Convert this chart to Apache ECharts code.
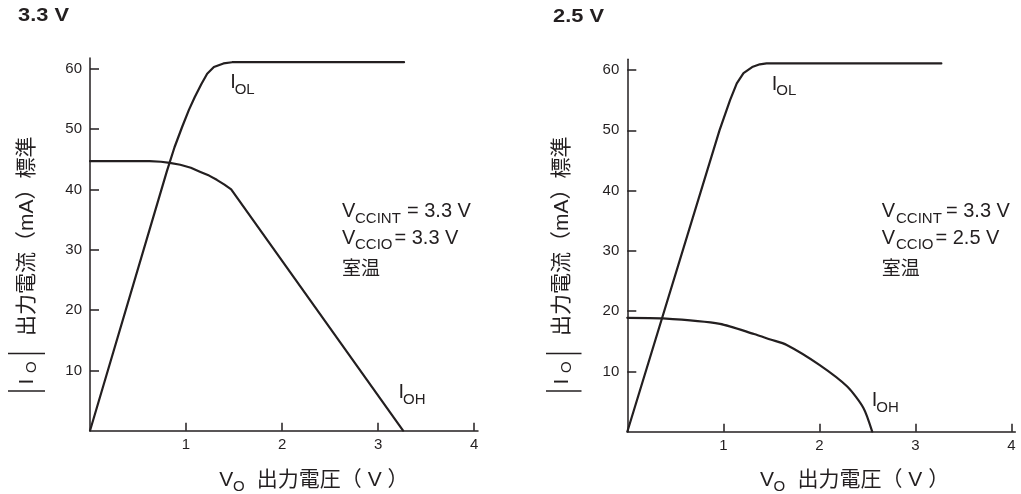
<!DOCTYPE html>
<html>
<head>
<meta charset="utf-8">
<script src="https://cdn.jsdelivr.net/npm/echarts@6/dist/echarts.min.js"></script>
<style>html,body{margin:0;padding:0;background:#fff}#c{width:1021px;height:494px}</style>
</head>
<body>
<div id="c"></div>
<script>
// ---- data ----
const xTicks = [1, 2, 3, 4];
const yTicks = [10, 20, 30, 40, 50, 60];

// 3.3 V chart
const iol33V = [0, 0.80, 0.88, 0.96, 1.03, 1.09, 1.16, 1.22, 1.29, 1.39, 1.48, 3.27];
const iol33I = [0, 43.0, 47.0, 50.4, 53.2, 55.3, 57.5, 59.2, 60.3, 60.9, 61.1, 61.1];
const ioh33V = [0, 0.62, 0.74, 0.83, 0.94, 1.05, 1.15, 1.24, 1.32, 1.40, 1.47, 3.26];
const ioh33I = [44.7, 44.7, 44.6, 44.4, 44.1, 43.6, 42.9, 42.3, 41.6, 40.8, 40.0, 0];

// 2.5 V chart
const iol25V = [0, 0.96, 1.07, 1.14, 1.21, 1.3, 1.38, 1.45, 3.27];
const iol25I = [0, 50, 55, 57.8, 59.5, 60.5, 60.95, 61.1, 61.1];
const ioh25V = [0, 0.37, 0.965, 1.32, 1.49, 1.66, 2.0, 2.29, 2.46, 2.55];
const ioh25I = [18.9, 18.8, 17.9, 16.2, 15.3, 14.4, 11.1, 7.5, 3.9, 0];

// ---- rendering ----
const C = '#231f20';
const FF = '"Liberation Sans", "Noto Sans CJK JP", sans-serif';
const pairs = (xs, ys) => xs.map((x, i) => [x, ys[i]]);

function T(text, x, y, size, extra) {
  extra = extra || {};
  return {
    type: 'text', x: x, y: y, silent: true,
    rotation: extra.rotation || 0,
    scaleX: extra.scaleX || 1,
    style: {
      text: text,
      font: (extra.weight || 'normal') + ' ' + size + 'px ' + FF,
      fill: C,
      textAlign: 'left', textVerticalAlign: 'middle',
      align: 'left', verticalAlign: 'middle'
    }
  };
}
function L(x1, y1, x2, y2) {
  return { type: 'line', silent: true, shape: { x1, y1, x2, y2 }, style: { stroke: C, lineWidth: 1.5 } };
}
function yTitle(cx, bx1, bx2) {
  const r = Math.PI / 2;
  return [
    L(bx1, 391, bx2, 391),
    L(bx1, 353.5, bx2, 353.5),
    T('I', cx, 384.5, 21, { rotation: r }),
    T('O', cx + 4, 373, 15, { rotation: r }),
    T('出力電流（mA）標準', cx, 336, 21, { rotation: r })
  ];
}
function xTitle(x0) {
  return [
    T('V', x0, 480, 21),
    T('O', x0 + 13.6, 486.5, 15),
    T('出力電圧（ V ）', x0 + 37.5, 480, 21)
  ];
}
function annot(vx, subX1, eqX1, sub1, subX2, eqX2, v2) {
  return [
    T('V', vx, 211.5, 20), T(sub1, subX1, 219, 15), T('= 3.3 V', eqX1, 211.5, 20),
    T('V', vx, 238, 20), T('CCIO', subX2, 245, 15), T('= ' + v2, eqX2, 238, 20),
    T('室温', vx, 270, 19)
  ];
}
function sub(x, y, main, s) {
  return [T(main, x - 1.5, y, 20), T(s, x + 3, y + 7, 15)];
}

const graphic = [].concat(
  [T('3.3 V', 18, 16, 18.5, { weight: 'bold', scaleX: 1.18 })],
  [T('2.5 V', 553, 17, 18.5, { weight: 'bold', scaleX: 1.18 })],
  yTitle(27.5, 8, 45),
  yTitle(562.5, 546, 581.5),
  xTitle(219.3),
  xTitle(760),
  annot(342, 355, 407, 'CCINT', 355, 394.5, '3.3 V'),
  annot(881.7, 896, 946, 'CCINT', 896, 935.5, '2.5 V'),
  sub(231.7, 82.5, 'I', 'OL'),
  sub(773.3, 84, 'I', 'OL'),
  sub(400, 392.5, 'I', 'OH'),
  sub(873.3, 400.5, 'I', 'OH')
);

function xAxis(g) {
  return {
    type: 'value', gridIndex: g, min: 0, max: 4.04,
    axisLine: { show: true, lineStyle: { color: C, width: 1.5 } },
    axisTick: { show: true, inside: true, length: 8, customValues: xTicks, lineStyle: { color: C, width: 1.5 } },
    axisLabel: { show: true, customValues: xTicks, margin: 7, color: C, fontSize: 15, fontFamily: FF },
    splitLine: { show: false }
  };
}
function yAxis(g) {
  return {
    type: 'value', gridIndex: g, min: 0, max: 61.8,
    axisLine: { show: true, lineStyle: { color: C, width: 1.5 } },
    axisTick: { show: true, inside: true, length: 9, customValues: yTicks, lineStyle: { color: C, width: 1.5 } },
    axisLabel: { show: true, customValues: yTicks, margin: 8, color: C, fontSize: 15, fontFamily: FF },
    splitLine: { show: false }
  };
}
function line(g, data, smooth) {
  return {
    type: 'line', xAxisIndex: g, yAxisIndex: g, data: data,
    showSymbol: false, smooth: smooth || false, silent: true,
    lineStyle: { color: C, width: 2.2, join: 'round', cap: 'round' }, animation: false
  };
}

const chart = echarts.init(document.getElementById('c'), null, { renderer: 'canvas' });
chart.setOption({
  animation: false,
  backgroundColor: '#fff',
  grid: [
    { left: 90, top: 58, width: 388, height: 372.7, outerBoundsMode: 'none' },
    { left: 627.3, top: 59.2, width: 388, height: 372.5, outerBoundsMode: 'none' }
  ],
  xAxis: [xAxis(0), xAxis(1)],
  yAxis: [yAxis(0), yAxis(1)],
  series: [
    line(0, pairs(iol33V, iol33I)),
    line(0, pairs(ioh33V, ioh33I)),
    line(1, pairs(iol25V, iol25I)),
    line(1, pairs(ioh25V, ioh25I), 0.25)
  ],
  graphic: graphic
});
</script>
</body>
</html>
